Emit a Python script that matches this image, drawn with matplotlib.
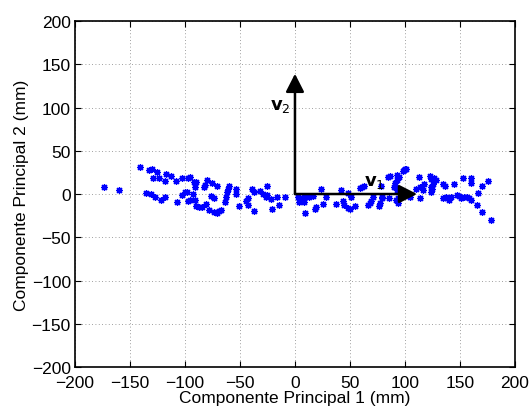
import matplotlib
matplotlib.use('Agg')
import matplotlib.pyplot as plt

plt.rcParams['font.family'] = ['Liberation Sans', 'DejaVu Sans']

# scores on the first two principal components (mm)
pc1 = [-173.6, -159.7, -141, -133, -130, -125, -129, -124, -117, -113, -118, -108, -103, -97,
       -135, -131, -127, -122, -118, -107.5, -103, -100, -97,
       -95.7, -92, -90, -91, -98.5, -93, -95.7, -91, -90, -87, -84.5, -81, -82, -80, -83,
       -75, -71, -76, -73.6, -78, -74, -71, -69, -67, -64, -63, -62, -60.6, -59.7,
       -53.6, -53.6, -50.6, -44.5, -42.7, -43, -38.8, -37, -37, -32, -29.4, -25.5, -26.6, -25.7,
       -21.5, -21, -16.7, -14.5, -9,
       3, 5, 6.6, 9, 3.6, 8, 9, 12.7, 16.4, 18.8, 18.2, 23.6, 28, 25.8, 37.6, 42, 44, 45,
       48.5, 51, 48, 50, 54.5, 58.8, 60.6, 62.4, 66, 68, 68.8, 71, 76.4, 77, 78, 79, 79.4,
       84.8, 85.5, 90, 91, 93, 93, 94, 86, 93, 98, 100, 100.6, 99, 94.5, 92.4, 91, 91.5, 93.6,
       104.5, 110, 112.7, 114, 116, 117, 114, 122.7, 124, 126.4, 128, 123.4, 125, 124, 125.7,
       134.8, 136, 134.8, 137, 140, 138.5, 145, 142, 147.5, 149, 150.6, 153.6, 156, 158, 159.7,
       153, 159.7, 160, 165.7, 166.4, 169.7, 170, 175.7, 178]
pc2 = [8, 5, 31.5, 28, 29, 26, 18, 19, 23, 21, 15, 15, 18, 19,
       1.6, -0.3, -4, -7, -3.5, -9, -1.5, 2.3, -7.6,
       19.6, 13.5, 13.5, 8.5, 2, 0, -7, -7, -14, -15, -15.3, -11.5, 10, 16, 8.5,
       13, 9.7, -2.3, -5, -18.4, -20.7, -22, -20, -18.4, -9, -3, 2, 5.4, 9.7,
       5.4, 0, -13.4, -8, -4.6, -13, 5.4, 2, -20, 4, 0, 9.7, -3, -1,
       -5.7, -17, -3.8, -12.6, -3.5,
       -3, -7, -5, -3, -8.8, -8.8, -21.5, -3, -2.3, -15, -17, 6, -4, -11, -12, 4.6, -8, -13,
       0.8, -3, -16.5, -17, -13.8, 6.6, 7.7, 9.2, -13, -10.7, -8, -3, -13.8, -10, 9.2, -3, -5,
       20, -5, 8.5, 13, 4.6, 16, -5, 21, 22, 26.5, 29, 28.5, 27.7, 20, 6.6, 8.5, -7, -10,
       -3, 5.4, 20, 8.5, 4.6, 11.5, -5, 20.7, 17, 18, 16, 8.5, 5.4, 2.7, 11.5,
       11.5, 9.2, -5, -3, -7, -5, 11.5, -4, -1, -2.3, -5, -4, -3, -5, -7,
       19, 19, 13, -12.6, 1.6, 9.2, -21, 14.6, -30]

# principal directions drawn as arrows
v1 = (111, 0)
v2 = (0, 139)
v1_label_pos = (63, 14)
v2_label_pos = (-23, 102)

fig = plt.figure(figsize=(5.31, 4.10), dpi=100)
ax = fig.add_axes([0.1412, 0.1024, 0.8286, 0.8439])

# matlab-like '*' : 8-spoke asterisk
ax.plot(pc1, pc2, marker=(8, 2, 0), color=(0, 0, 1), markersize=5, markeredgewidth=0.9,
        linestyle='none')

arrow_style = dict(arrowstyle='-|>,head_length=0.55,head_width=0.28', color='k', lw=1.8,
                   mutation_scale=20, shrinkA=0, shrinkB=0)
ax.annotate('', xy=v1, xytext=(0, 0), arrowprops=arrow_style)
ax.annotate('', xy=v2, xytext=(0, 0), arrowprops=arrow_style)
ax.text(v1_label_pos[0], v1_label_pos[1], r'$\mathbf{v}_1$', fontsize=13, ha='left', va='center')
ax.text(v2_label_pos[0], v2_label_pos[1], r'$\mathbf{v}_2$', fontsize=13, ha='left', va='center')

ax.set_xlim(-200, 200)
ax.set_ylim(-200, 200)
ax.set_xticks(range(-200, 201, 50))
ax.set_yticks(range(-200, 201, 50))
ax.tick_params(direction='in', top=True, right=True, labelsize=12.5, length=4, width=0.8)
ax.tick_params(axis='x', pad=6)
ax.tick_params(axis='y', pad=3)
ax.grid(True, linestyle=(0, (1, 3)), color='0.5', linewidth=0.6)
for s in ax.spines.values():
    s.set_linewidth(1.2)

ax.set_xlabel('Componente Principal 1 (mm)', fontsize=12.5, labelpad=0)
ax.set_ylabel('Componente Principal 2 (mm)', fontsize=12.5, labelpad=2)

fig.savefig('out.png', dpi=100)
